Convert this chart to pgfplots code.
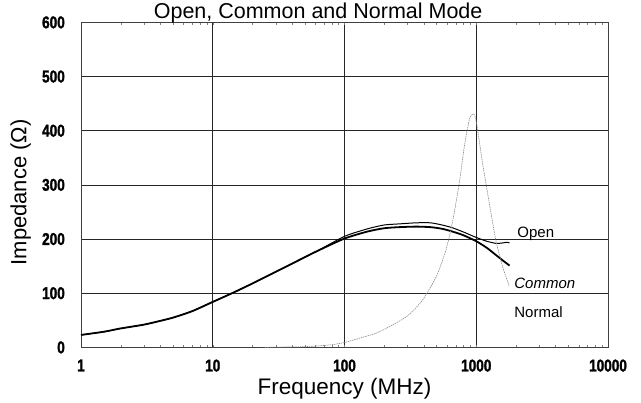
\documentclass[border=0pt]{standalone}
\usepackage{fontspec}
\setmainfont{Liberation Sans}
\newfontfamily\tickfont[FakeStretch=0.8,FakeBold=1.6]{Liberation Sans Bold}
\usepackage{pgfplots}
\pgfplotsset{compat=1.18}
\begin{document}
\begin{tikzpicture}
\begin{axis}[
  scale only axis, width=527pt, height=325pt,
  xmode=log, xmin=1, xmax=10000, ymin=0, ymax=600,
  xtick={1,10,100,1000,10000}, xticklabels={1,10,100,1000,10000},
  ytick={0,100,200,300,400,500,600},
  minor xtick={},
  grid=major, major grid style={black!85, line width=0.6pt},
  axis line style={black!75, line width=0.8pt},
  major tick length=0pt,
  /pgf/number format/assume math mode=true,
  ticklabel style={font=\tickfont\fontsize{17}{17}\selectfont, inner sep=0pt},
  xticklabel shift=12pt, yticklabel shift=16pt,
  clip=false,
]
\addplot[black, line width=1.0pt, smooth, tension=0.4] coordinates {
 (1,23)(1.5,29)(2,35)(3,42)(4,49)(5,55)(7,67)(10,84)(14,100)(20,118)(34,146)(61,177)
 (100,205)(150,219)(200,226)(260,228)(350,230)(450,230)(550,226)(657,221)(800,213)
 (1000,203)(1200,196)(1420,192)(1600,193)(1700,194)(1790,193)};
\addplot[black, line width=1.8pt, smooth, tension=0.4] coordinates {
 (1,23)(1.5,29)(2,35)(3,42)(4,49)(5,55)(7,67)(10,84)(14,100)(20,118)(34,146)(61,177)
 (100,201)(150,214)(200,220)(260,222)(350,223)(450,222)(550,219)(657,214)(800,207)
 (1000,196)(1200,184)(1420,170)(1600,160)(1790,151)};
\addplot[black!45, line width=0.6pt, dash pattern=on 1.5pt off 0.8pt, smooth, tension=0.4] coordinates {
 (25,0)(30,0.5)(45,1)(61,2.5)(80,5)(100,9)(130,17)(173,26)(218,38)(300,58)(390,87)
 (500,132)(589,180)(657,229)(743,303)(812,371)(885,420)(930,430)(956,431)(985,425)
 (1025,401)(1117,340)(1257,266)(1408,198)(1585,149)(1780,113)};
\node[anchor=west, inner sep=0pt, font=\fontsize{15}{15}\selectfont] at (axis cs:2046,210) {Open};
\node[anchor=west, inner sep=0pt, font=\fontsize{15}{15}\selectfont\itshape] at (axis cs:1941,118) {Common};
\node[anchor=west, inner sep=0pt, font=\fontsize{15}{15}\selectfont] at (axis cs:1941,65.5) {Normal};
\node[anchor=base, font=\fontsize{22.5}{22.5}\selectfont] at ([yshift=-47pt]rel axis cs:0.5,0) {Frequency (MHz)};
\node[rotate=90, anchor=center, font=\fontsize{22}{22}\selectfont] at ([xshift=-60.3pt]rel axis cs:0,0.477) {Impedance (Ω)};
\node[anchor=base, font=\fontsize{21.5}{21.5}\selectfont] at ([yshift=3.5pt]rel axis cs:0.45,1) {Open, Common and Normal Mode};
\end{axis}
\path ([shift={(-81pt,-55pt)}]current axis.south west) rectangle ([shift={(33pt,19pt)}]current axis.north east);
\end{tikzpicture}
\end{document}
